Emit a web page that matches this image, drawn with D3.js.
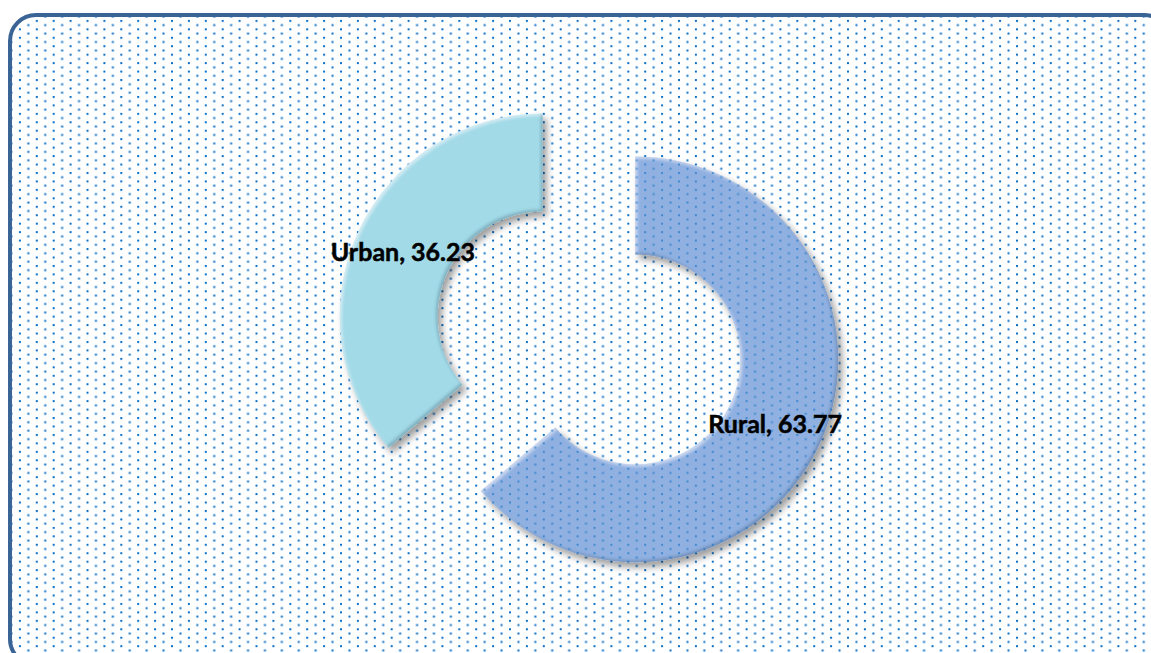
<!DOCTYPE html>
<html>
<head>
<meta charset="utf-8">
<script src="https://cdn.jsdelivr.net/npm/d3@7"></script>
<style>
  html, body { margin: 0; padding: 0; background: #fff; overflow: hidden; }
  svg { display: block; }
</style>
</head>
<body>
<div id="chart"></div>
<script>
const categories = ['Rural', 'Urban'];
const shares = [63.77, 36.23];
const fills = ['#8fb0e1', '#a2dae8'];

const W = 1151, H = 653;
const COLORS = { frame: '#3a6495', dot: '#0d6fc4', ink: '#000' };

const svg = d3.select('#chart').append('svg')
  .attr('width', W).attr('height', H)
  .attr('viewBox', `0 0 ${W} ${H}`);

const defs = svg.append('defs');

// dotted fill of the chart area, staggered rows
const pat = defs.append('pattern').attr('id', 'dots')
  .attr('patternUnits', 'userSpaceOnUse')
  .attr('x', 2).attr('y', 3).attr('width', 16.9).attr('height', 8.45);
pat.append('rect').attr('x', 0).attr('y', 0).attr('width', 2).attr('height', 2).attr('fill', COLORS.dot);
pat.append('rect').attr('x', 8.45).attr('y', 4.22).attr('width', 2).attr('height', 2).attr('fill', COLORS.dot);

// bevel + drop shadow for the slices
const f = defs.append('filter').attr('id', 'bevel')
  .attr('x', '-10%').attr('y', '-10%').attr('width', '125%').attr('height', '125%');
f.append('feGaussianBlur').attr('in', 'SourceAlpha').attr('stdDeviation', 3.5).attr('result', 'sb');
f.append('feOffset').attr('in', 'sb').attr('dx', 4).attr('dy', 5).attr('result', 'so');
f.append('feFlood').attr('flood-color', '#000').attr('flood-opacity', 0.38).attr('result', 'sc');
f.append('feComposite').attr('in', 'sc').attr('in2', 'so').attr('operator', 'in').attr('result', 'drop');
f.append('feGaussianBlur').attr('in', 'SourceAlpha').attr('stdDeviation', 1.5).attr('result', 'eb');
f.append('feOffset').attr('in', 'eb').attr('dx', -2).attr('dy', -2).attr('result', 'ebo');
f.append('feComposite').attr('in', 'SourceAlpha').attr('in2', 'ebo').attr('operator', 'out').attr('result', 'darkMask');
f.append('feFlood').attr('flood-color', '#1d3a5a').attr('flood-opacity', 0.4).attr('result', 'dc');
f.append('feComposite').attr('in', 'dc').attr('in2', 'darkMask').attr('operator', 'in').attr('result', 'dark');
f.append('feOffset').attr('in', 'eb').attr('dx', 2).attr('dy', 2).attr('result', 'ebl');
f.append('feComposite').attr('in', 'SourceAlpha').attr('in2', 'ebl').attr('operator', 'out').attr('result', 'lightMask');
f.append('feFlood').attr('flood-color', '#fff').attr('flood-opacity', 0.45).attr('result', 'lc');
f.append('feComposite').attr('in', 'lc').attr('in2', 'lightMask').attr('operator', 'in').attr('result', 'light');
const m = f.append('feMerge');
['drop', 'SourceGraphic', 'dark', 'light'].forEach(n => m.append('feMergeNode').attr('in', n));

// frame
svg.append('rect')
  .attr('x', 10).attr('y', 15).attr('width', 1160).attr('height', 650)
  .attr('rx', 26).attr('ry', 26)
  .attr('fill', '#fff');
svg.append('rect')
  .attr('x', 10).attr('y', 15).attr('width', 1160).attr('height', 650)
  .attr('rx', 26).attr('ry', 26)
  .attr('fill', 'url(#dots)')
  .attr('stroke', COLORS.frame).attr('stroke-width', 4);

// doughnut, both slices pulled out along their mid angle
const cx = 589, cy = 338, outerR = 203, innerR = 105, explode = 51;
const pie = d3.pie().sort(null).value(d => d.v);
const arc = d3.arc().innerRadius(innerR).outerRadius(outerR);
const slices = pie(categories.map((c, i) => ({ c, v: shares[i], fill: fills[i] })));

const shift = s => {
  const mid = (s.startAngle + s.endAngle) / 2;
  return [cx + explode * Math.sin(mid), cy - explode * Math.cos(mid)];
};

slices.forEach((s, i) => {
  const [ox, oy] = shift(s);
  svg.append('path')
    .attr('transform', `translate(${ox},${oy})`)
    .attr('d', arc(s)).attr('fill', s.data.fill).attr('filter', 'url(#bevel)');
  if (s.data.c === 'Rural') {
    // the dots show through the Rural slice
    defs.append('clipPath').attr('id', 'clip' + i)
      .append('path').attr('transform', `translate(${ox},${oy})`).attr('d', arc(s));
    svg.append('rect')
      .attr('x', 0).attr('y', 0).attr('width', W).attr('height', H)
      .attr('fill', 'url(#dots)').attr('opacity', 0.6)
      .attr('clip-path', `url(#clip${i})`);
  }
});

// data labels at the slice centroids (drawn above both slices)
slices.forEach(s => {
  const [ox, oy] = shift(s);
  const [lx, ly] = arc.centroid(s);
  svg.append('text')
    .attr('x', ox + lx).attr('y', oy + ly)
    .attr('text-anchor', 'middle').attr('dy', '0.36em')
    .attr('font-family', 'Lato, "Open Sans", sans-serif')
    .attr('font-weight', 700).attr('font-size', 25)
    .attr('fill', COLORS.ink).attr('stroke', COLORS.ink).attr('stroke-width', 0.5)
    .text(`${s.data.c}, ${s.data.v.toFixed(2)}`);
});
</script>
</body>
</html>
